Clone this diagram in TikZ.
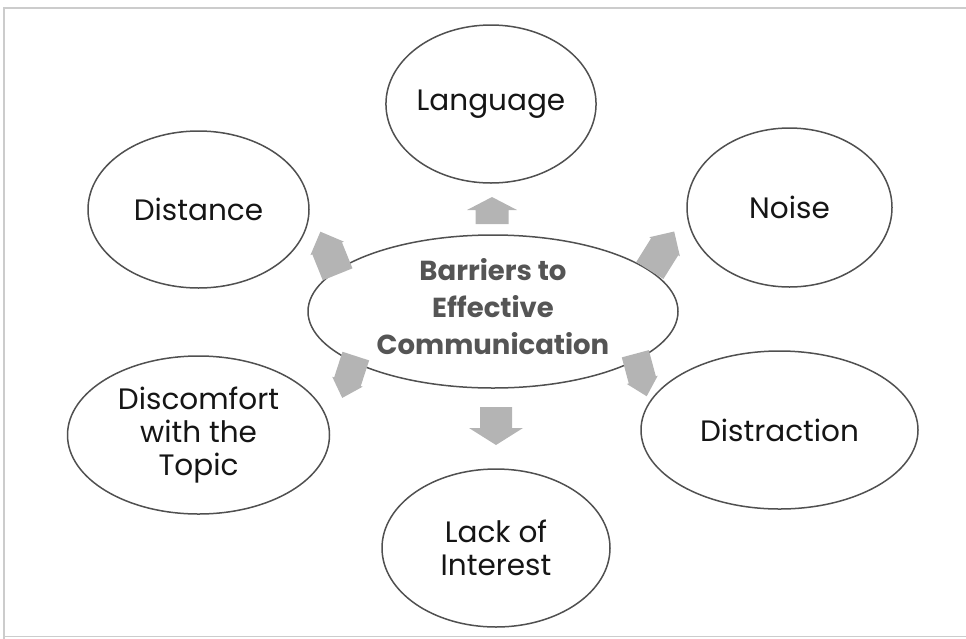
\documentclass[tikz,border=0pt]{standalone}
\usepackage{fontspec}
\setmainfont{Poppins}
\usetikzlibrary{shapes.geometric}
\definecolor{framegray}{HTML}{CCCCCC}
\definecolor{linegray}{HTML}{505050}
\definecolor{arrowgray}{HTML}{B4B4B4}
\definecolor{titlegray}{HTML}{555555}
\definecolor{txt}{HTML}{151515}
\newcommand\blkarrow[7]{%
  \fill[arrowgray, shift={(#1,#2)}, rotate=#3]
    ({-#4/2},{-#7/2}) -- ({#4/2-#5},{-#7/2}) -- ({#4/2-#5},{-#6/2}) -- ({#4/2},0)
    -- ({#4/2-#5},{#6/2}) -- ({#4/2-#5},{#7/2}) -- ({-#4/2},{#7/2}) -- cycle;}
\tikzset{
  bubble/.style={ellipse, draw=linegray, line width=1.5pt, fill=white, inner sep=0pt,
    text=txt, align=center, font=\fontsize{29.5}{33}\selectfont},
  hub/.style={ellipse, draw=linegray, line width=1.5pt, fill=white, inner sep=0pt},
  hubtext/.style={inner sep=0pt, text=titlegray, align=center,
    font=\fontsize{27.5}{37}\selectfont\bfseries}
}
\begin{document}
\begin{tikzpicture}[x=1pt,y=-1pt]
\useasboundingbox (0,0) rectangle (966,638);
\draw[framegray, line width=1.2pt] (4,640) -- (4,8) -- (970,8);
\draw[framegray, line width=1.2pt] (4,636.5) -- (970,636.5);

\node[hub, minimum width=370pt, minimum height=153pt] (c) at (493,311.5) {};
\node[hubtext] (ct) at (493,307) {Barriers to\\ Effective\\ Communication};
\node[bubble, minimum width=202pt, minimum height=158pt] (lang) at (491,104) {Language};
\node[bubble, minimum width=221pt, minimum height=157pt] (dist) at (198.5,209.5) {Distance};
\node[bubble, minimum width=205pt, minimum height=159pt] (noise) at (789.5,207.5) {Noise};
\node[bubble, minimum width=262pt, minimum height=158pt] (disc) at (198.5,435) {Discomfort\\ with the\\ Topic};
\node[bubble, minimum width=277pt, minimum height=158pt] (distr) at (779.5,430) {Distraction};
\node[bubble, minimum width=228pt, minimum height=158pt] (lack) at (496,548) {Lack of\\ Interest};

\blkarrow{492}{210.5}{90}{27}{13}{50}{33}
\blkarrow{496}{426}{-90}{38}{17}{54}{32}
\blkarrow{329}{253}{112}{46}{18}{36}{32}
\blkarrow{662}{251}{58}{46}{18}{36}{32}
\blkarrow{349}{377}{-108}{44}{17}{32}{28}
\blkarrow{641}{375}{-75}{44}{17}{32}{28}
\end{tikzpicture}
\end{document}
